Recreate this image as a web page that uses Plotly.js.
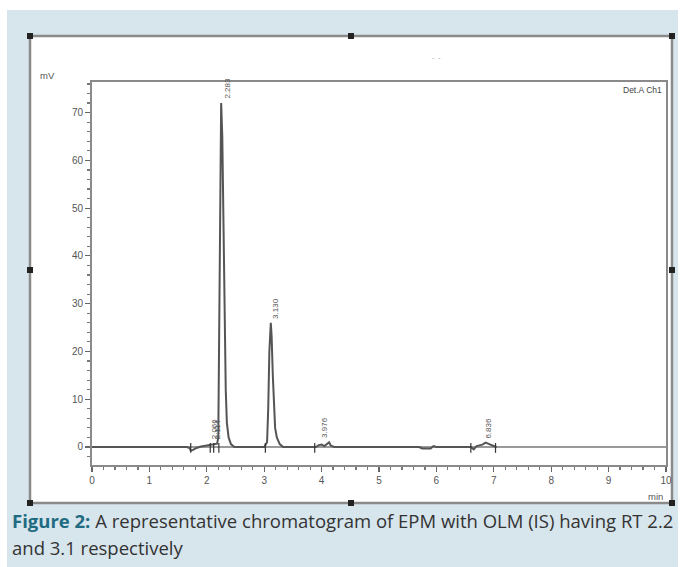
<!DOCTYPE html>
<html>
<head>
<meta charset="utf-8">
<script src="https://cdn.plot.ly/plotly-3.0.1.min.js"></script>
<style>html,body{margin:0;padding:0;background:#fff;}#chart{width:690px;height:567px;}</style>
</head>
<body>
<div id="chart"></div>
<script>
// Chromatogram trace (retention time in min, signal in mV)
var timeMin = [0, 1.50, 1.65, 1.70, 1.72, 1.76, 1.82, 1.90, 2.00, 2.06, 2.10, 2.15, 2.18,
  2.20, 2.215, 2.23, 2.25, 2.27, 2.29, 2.31, 2.33, 2.35, 2.38, 2.42, 2.48,
  3.00, 3.05, 3.07, 3.09, 3.115, 3.13, 3.15, 3.17, 3.19, 3.22, 3.27, 3.33,
  3.90, 3.95, 4.00, 4.05, 4.10, 4.13, 4.16, 4.22,
  5.70, 5.75, 5.90, 5.95, 6.00,
  6.60, 6.65, 6.70, 6.80, 6.86, 6.92, 6.98, 7.02, 7.05, 10];
var signalMV = [0, 0, 0, -0.2, -0.8, -0.6, -0.2, 0.1, 0.3, 0.4, 0.5, 0.5, 0.7,
  2, 20, 50, 72, 65, 45, 28, 12, 5, 2, 0.6, 0,
  0, 1, 8, 20, 26, 23, 15, 8, 4, 2, 0.6, 0,
  0, 0.4, 0.5, 0.2, 0.7, 1.0, 0.3, 0,
  0, -0.3, -0.3, 0.2, 0,
  0, -0.5, 0.2, 0.5, 0.9, 0.6, 0.2, 0.1, 0];
// Integration markers
var markerRT = [1.72, 2.06, 2.12, 2.21, 3.02, 3.88, 6.60, 7.03];
// Peak labels
var peakRT = [2.066, 2.114, 2.283, 3.130, 3.976, 6.836];
var peakH = [0.8, 0.8, 72, 26, 1.0, 0.9];
var peakLabel = ['2.066', '2.114', '2.283', '3.130', '3.976', '6.836'];
var xTicks = [0,1,2,3,4,5,6,7,8,9,10];
var yTicks = [0,10,20,30,40,50,60,70];

var W = 690, H = 567, L = 92, R = 666, T = 82, B = 465;
function px(x){ return (x - L) / (R - L); }
function py(y){ return (B - y) / (B - T); }

var traces = [
  {x: timeMin, y: signalMV, type: 'scatter', mode: 'lines', line: {color: '#555555', width: 2}, hoverinfo: 'skip'},
  {x: markerRT, y: markerRT.map(function(){return -0.2;}), type: 'scatter', mode: 'markers',
   marker: {symbol: 'line-ns', size: 7, line: {color: '#333', width: 1.2}}, hoverinfo: 'skip'}
];

var shapes = [
  {type: 'rect', xref: 'paper', yref: 'paper', x0: px(7), x1: px(678), y0: py(10), y1: py(568), fillcolor: '#d7e5ed', line: {width: 0}, layer: 'below'},
  {type: 'rect', xref: 'paper', yref: 'paper', x0: px(30), x1: px(672), y0: py(36), y1: py(503), fillcolor: '#ffffff', line: {color: '#8a8a8a', width: 2.5}, layer: 'below'}
];
var handles = [[30,36],[351,36],[672,36],[30,270],[672,270],[30,503],[351,503],[672,503]];
handles.forEach(function(h){
  shapes.push({type: 'rect', xref: 'paper', yref: 'paper', x0: px(h[0]-3), x1: px(h[0]+3), y0: py(h[1]-3), y1: py(h[1]+3), fillcolor: '#222', line: {width: 0}});
});

var annotations = [];
peakLabel.forEach(function(t, i){
  annotations.push({x: peakRT[i], y: peakH[i], xref: 'x', yref: 'y', text: t, showarrow: false, textangle: -90,
    xanchor: 'center', yanchor: 'bottom', xshift: 4, yshift: 2, font: {family: 'Liberation Sans, Arial', size: 8, color: '#555'}});
});
annotations.push({xref: 'paper', yref: 'paper', x: px(38), y: py(75), xanchor: 'left', yanchor: 'middle', text: 'mV', showarrow: false, font: {family: 'Liberation Sans, Arial', size: 9.5, color: '#555'}});
annotations.push({xref: 'paper', yref: 'paper', x: px(665), y: py(496), xanchor: 'right', yanchor: 'middle', text: 'min', showarrow: false, font: {family: 'Liberation Sans, Arial', size: 9.5, color: '#555'}});
annotations.push({xref: 'paper', yref: 'paper', x: px(664), y: py(90), xanchor: 'right', yanchor: 'middle', text: 'Det.A Ch1', showarrow: false, font: {family: 'Liberation Sans, Arial', size: 8.5, color: '#444'}});
annotations.push({xref: 'paper', yref: 'paper', x: px(436), y: py(57), xanchor: 'center', yanchor: 'middle', text: '-  -', showarrow: false, font: {family: 'Liberation Sans, Arial', size: 7, color: '#aaa'}});
annotations.push({xref: 'paper', yref: 'paper', x: px(10), y: py(520), xanchor: 'left', yanchor: 'middle', showarrow: false,
  text: '<b><span style="color:#1f6c82">Figure 2:</span></b> A representative chromatogram of EPM with OLM (IS) having RT 2.2',
  font: {family: 'Open Sans', size: 18.5, color: '#333'}});
annotations.push({xref: 'paper', yref: 'paper', x: px(10), y: py(547), xanchor: 'left', yanchor: 'middle', showarrow: false,
  text: 'and 3.1 respectively', font: {family: 'Open Sans', size: 18.5, color: '#333'}});

var layout = {
  width: W, height: H,
  margin: {l: L, r: W - R, t: T, b: H - B, pad: 0},
  paper_bgcolor: '#ffffff', plot_bgcolor: '#ffffff',
  showlegend: false,
  xaxis: {range: [0, 10], tickvals: xTicks, ticktext: xTicks.map(String), ticks: 'outside', ticklen: 5, tickcolor: '#666', tickwidth: 1.2,
    showline: true, linecolor: '#8a8a8a', linewidth: 2, mirror: true, showgrid: false, zeroline: false,
    tickfont: {family: 'Liberation Sans, Arial', size: 10, color: '#555'},
    minor: {dtick: 0.2, ticks: 'outside', ticklen: 3, tickcolor: '#777', showgrid: false}},
  yaxis: {range: [-3.77, 76.4], tickvals: yTicks, ticktext: yTicks.map(String), ticks: 'outside', ticklen: 5, tickcolor: '#666', tickwidth: 1.2,
    showline: true, linecolor: '#8a8a8a', linewidth: 2, mirror: true, showgrid: false,
    zeroline: true, zerolinecolor: '#9a9a9a', zerolinewidth: 2,
    tickfont: {family: 'Liberation Sans, Arial', size: 10, color: '#555'},
    minor: {dtick: 2, ticks: 'outside', ticklen: 3, tickcolor: '#777', showgrid: false}},
  shapes: shapes,
  annotations: annotations
};
Plotly.newPlot('chart', traces, layout, {displayModeBar: false, staticPlot: true});
</script>
</body>
</html>
